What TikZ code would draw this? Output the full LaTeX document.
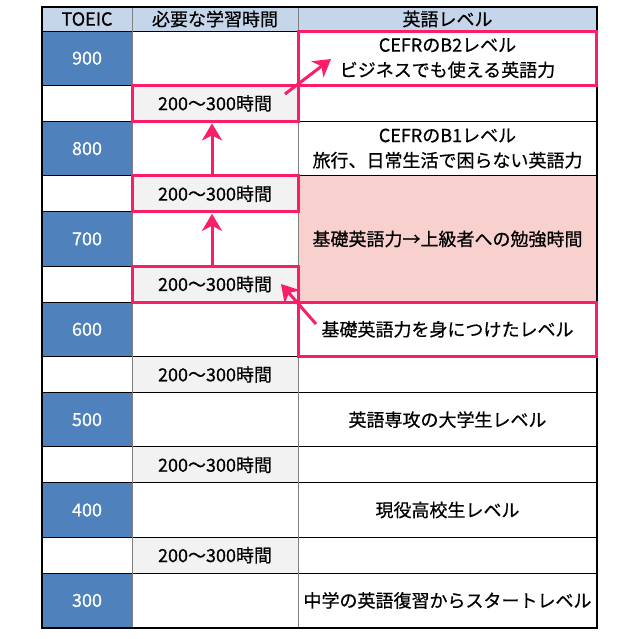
\documentclass[tikz,border=0pt]{standalone}
\usepackage{fontspec}
\setmainfont{Noto Sans CJK JP}[FakeBold=0.6]
\usetikzlibrary{arrows.meta}
\definecolor{hdr}{HTML}{C5D5EA}
\definecolor{tblue}{HTML}{4F81BD}
\definecolor{lgray}{HTML}{F2F2F2}
\definecolor{lpink}{HTML}{F8D0CE}
\definecolor{hot}{HTML}{FA1E68}
\definecolor{sepgray}{HTML}{808080}
\newcommand\mycell[7]{\node[cellbase,#6,minimum width={(#4-(#2))*1pt},minimum height={(#5-(#3))*1pt}] (#1) at ({(#2+#4)/2},{(#3+#5)/2}) {#7};}
\tikzset{
  cellbase/.style={inner sep=0pt, outer sep=0pt, align=center, font=\fontsize{18}{25}\selectfont, text=black},
  hdrcell/.style={fill=hdr},
  scorecell/.style={fill=tblue, text=white},
  hourcell/.style={fill=lgray},
  pinkcell/.style={fill=lpink},
  plaincell/.style={fill=white},
  hilite/.style={draw=hot, line width=3pt},
  parrow/.style={draw=hot, line width=3pt, -{Stealth[length=17pt,width=20pt,inset=5pt]}},
  hline/.style={black, line width=0.9pt},
  vline/.style={sepgray, line width=0.9pt},
  border/.style={black, line width=2pt},
}
\begin{document}
\begin{tikzpicture}[x=1pt,y=-1pt]
\useasboundingbox (0,0) rectangle (640,638);
\fill[white] (0,0) rectangle (640,638);
% header
\mycell{h1}{42}{7}{132}{31}{hdrcell}{TOEIC}
\mycell{h2}{132}{7}{298}{31}{hdrcell}{必要な学習時間}
\mycell{h3}{298}{7}{597}{31}{hdrcell}{英語レベル}
% score column
\mycell{s900}{42}{31}{132}{85.3}{scorecell}{900}
\mycell{s800}{42}{121.4}{132}{175.7}{scorecell}{800}
\mycell{s700}{42}{211.8}{132}{266}{scorecell}{700}
\mycell{s600}{42}{302.2}{132}{356.4}{scorecell}{600}
\mycell{s500}{42}{392.5}{132}{446.8}{scorecell}{500}
\mycell{s400}{42}{482.9}{132}{537.1}{scorecell}{400}
\mycell{s300}{42}{573.3}{132}{627.5}{scorecell}{300}
% hours column
\mycell{t1}{132}{85.3}{298}{121.4}{hourcell}{200〜300時間}
\mycell{t2}{132}{175.7}{298}{211.8}{hourcell}{200〜300時間}
\mycell{t3}{132}{266}{298}{302.2}{hourcell}{200〜300時間}
\mycell{t4}{132}{356.4}{298}{392.5}{hourcell}{200〜300時間}
\mycell{t5}{132}{446.8}{298}{482.9}{hourcell}{200〜300時間}
\mycell{t6}{132}{537.1}{298}{573.3}{hourcell}{200〜300時間}
% level column
\mycell{l900}{298}{31}{597}{85.3}{plaincell}{CEFRのB2レベル\\ビジネスでも使える英語力}
\mycell{l800}{298}{121.4}{597}{175.7}{plaincell}{CEFRのB1レベル\\旅行、日常生活で困らない英語力}
\mycell{lmid}{298}{175.7}{597}{302.2}{pinkcell}{基礎英語力→上級者への勉強時間}
\mycell{l600}{298}{302.2}{597}{356.4}{plaincell}{基礎英語力を身につけたレベル}
\mycell{l500}{298}{392.5}{597}{446.8}{plaincell}{英語専攻の大学生レベル}
\mycell{l400}{298}{482.9}{597}{537.1}{plaincell}{現役高校生レベル}
\mycell{l300}{298}{573.3}{597}{627.5}{plaincell}{中学の英語復習からスタートレベル}
% grid
\foreach \yy in {31,85.3,121.4,175.7,302.2,356.4,392.5,446.8,482.9,537.1,573.3}
  \draw[hline] (42,\yy) -- (597,\yy);
\foreach \yy in {211.8,266}
  \draw[hline] (42,\yy) -- (298,\yy);
\draw[vline] (132,7) -- (132,627.5);
\draw[vline] (298,7) -- (298,627.5);
\draw[border] (42,7) rectangle (597,627.5);
% highlights
\draw[hilite] (l900.north west) rectangle ([xshift=-0.5pt]l900.south east);
\draw[hilite] (t1.north west) rectangle (t1.south east);
\draw[hilite] (t2.north west) rectangle (t2.south east);
\draw[hilite] (t3.north west) rectangle (t3.south east);
\draw[hilite] (l600.north west) rectangle ([xshift=-0.5pt]l600.south east);
% arrows
\coordinate (aTail) at (285,94);
\coordinate (aTip) at (331,59);
\coordinate (dTail) at (316,324);
\coordinate (dTip) at (281,284);
\draw[parrow] (aTail) -- (aTip);
\draw[parrow] ([xshift=-3pt]t2.north) -- ([xshift=-3pt,yshift=-2pt]t1.south);
\draw[parrow] ([xshift=-3pt]t3.north) -- ([xshift=-3pt,yshift=-2pt]t2.south);
\draw[parrow] (dTail) -- (dTip);
\end{tikzpicture}
\end{document}
